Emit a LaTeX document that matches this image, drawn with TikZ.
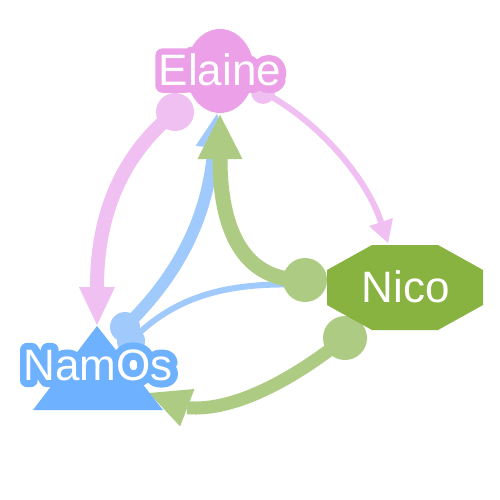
\documentclass[tikz,border=0pt]{standalone}
\usepackage{fontspec}
\newfontfamily\lblfont{Liberation Sans}
\usetikzlibrary{calc,shapes.geometric}
\definecolor{pinkN}{HTML}{EBA0E8}
\definecolor{pinkE}{HTML}{F0C0F2}
\definecolor{greenN}{HTML}{88B341}
\definecolor{greenE}{HTML}{ADCB82}
\definecolor{blueN}{HTML}{6EB2FF}
\definecolor{blueE}{HTML}{A0CAFC}
% white text with a coloured halo (stroked glyph outline underneath)
\newcommand\halotext[3]{%
  \makebox[0pt][l]{\textcolor{#1}{\special{pdf:literal direct 1 Tr #2 w 1 j 1 J}#3\special{pdf:literal direct 0 Tr}}}%
  \textcolor{white}{#3}}
% colour, tip, direction angle, length, half width
\newcommand\arrowhd[5]{\fill[#1] (#2) -- ($(#2)+(#3+180:#4)+(#3+90:#5)$) -- ($(#2)+(#3+180:#4)+(#3-90:#5)$) -- cycle;}
\tikzset{
  lbl/.style={font={\lblfont\fontsize{44}{44}\selectfont}, text=white, inner sep=0pt},
}
\begin{document}
\begin{tikzpicture}[x=1pt,y=-1pt]
\useasboundingbox (0,0) rectangle (500,500);
\fill[white] (0,0) rectangle (500,500);
% edge anchor points
\coordinate (sBT) at (125,327);
\coordinate (sBt) at (131,341);
\coordinate (sPT) at (175,112);
\coordinate (sPt) at (263,92);
\coordinate (sGU) at (305,280);
\coordinate (sGL) at (345,338);
\coordinate (tBT) at (217,114);
\coordinate (tBt) at (327,285);
\coordinate (tPT) at (97,325);
\coordinate (tPt) at (388,243);
\coordinate (tGU) at (220,115);
\coordinate (tGL) at (149,393);
\coordinate (eBT) at ($(tBT)+(96:34)$);
\coordinate (eBt) at ($(tBt)+(180:18)$);
\coordinate (ePT) at ($(tPT)+(-90:38)$);
\coordinate (ePt) at ($(tPt)+(251.6:22)$);
\coordinate (eGU) at ($(tGU)+(90:44)$);
\coordinate (eGL) at ($(tGL)+(21:41)$);
% blue edges (NamOs -> Elaine, NamOs -> Nico)
\draw[blueE, line width=12pt] (sBT) .. controls +(55,-53) and +(-5,67) .. (eBT);
\arrowhd{blueE}{tBT}{-84}{34}{18}
\fill[blueE] (sBT) circle[radius=15pt];
\draw[blueE, line width=6pt] (sBt) .. controls +(49,-51) and +(-69,-3) .. (eBt);
\arrowhd{blueE}{tBt}{0}{18}{10}
\fill[blueE] (sBt) circle[radius=14pt];
% pink edges (Elaine -> NamOs, Elaine -> Nico)
\draw[pinkE, line width=14pt] (sPT) .. controls +(-57,46) and +(0,-67) .. (ePT);
\arrowhd{pinkE}{tPT}{90}{38}{18}
\fill[pinkE] (sPT) circle[radius=19pt];
\draw[pinkE, line width=6pt] (sPt) .. controls +(57,30) and +(-14,-43) .. (ePt);
\arrowhd{pinkE}{tPt}{71.6}{22}{12.5}
\fill[pinkE] (sPt) circle[radius=12pt];
% green edges (Nico -> Elaine, Nico -> NamOs)
\draw[greenE, line width=15pt] (sGU) .. controls +(-70,2) and +(0,56) .. (eGU);
\arrowhd{greenE}{tGU}{-90}{44}{22.5}
\fill[greenE] (sGU) circle[radius=22pt];
\draw[greenE, line width=13pt] (sGL) .. controls +(-50,40) and +(48,4) .. (eGL);
\arrowhd{greenE}{tGL}{201}{41}{20}
\fill[greenE] (sGL) circle[radius=22pt];
% node shapes
\fill[blueN] (97,326) -- (33,410) -- (163,410) -- cycle;
\node[ellipse, fill=pinkN, minimum width=68pt, minimum height=84pt, inner sep=0pt] (ElaineShape) at (220,71) {};
\fill[greenN] (372,245) -- (438,245) -- (483,270) -- (483,305) -- (438,330) -- (372,330) -- (327,305) -- (327,270) -- cycle;
% labels
\node[lbl] (Elaine) at (220,70) {\halotext{pinkN}{14}{Elaine}};
\node[lbl] (NamOs) at (98,365) {\halotext{blueN}{14}{NamOs}};
\node[lbl] (Nico) at (406,287) {Nico};
\end{tikzpicture}
\end{document}
